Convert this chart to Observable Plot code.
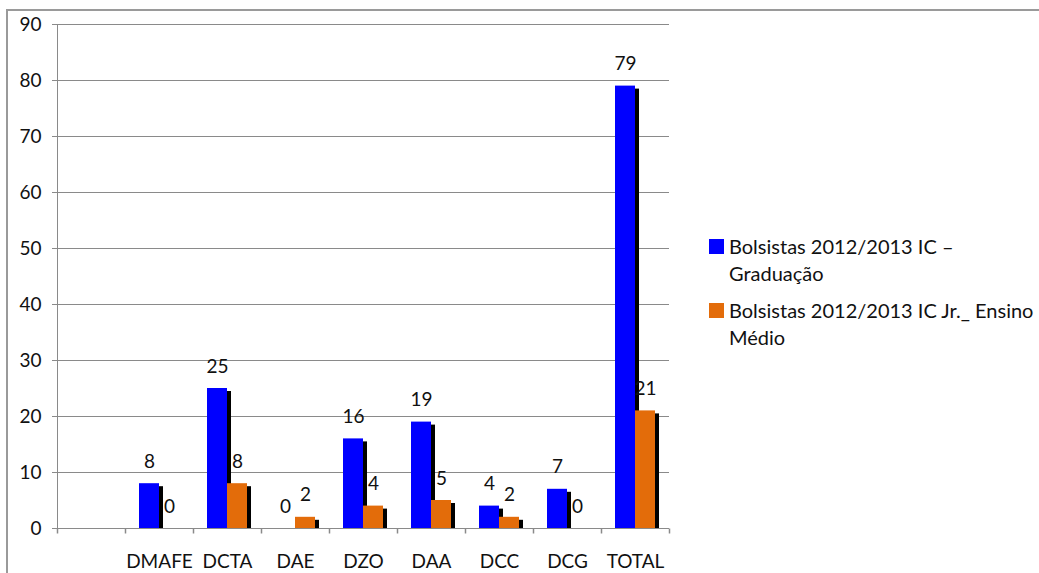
<!DOCTYPE html>
<html>
<head>
<meta charset="utf-8">
<script src="https://cdn.jsdelivr.net/npm/d3@7"></script>
<script src="https://cdn.jsdelivr.net/npm/@observablehq/plot@0.6"></script>
<style>
  body { margin: 0; background: #fff; }
  #wrap { position: relative; width: 1039px; height: 573px; overflow: hidden; font-family: Lato, "Open Sans", sans-serif; }
  #border { position: absolute; left: 6px; top: 9px; width: 1200px; height: 800px; border-left: 2px solid #9a9a9a; border-top: 2px solid #9a9a9a; }
  #chart { position: absolute; left: 0; top: 0; }
  #legend { position: absolute; left: 709px; top: 233px; font-size: 20px; line-height: 27px; color: #111; white-space: nowrap; }
  .item { display: flex; align-items: flex-start; margin-bottom: 10px; }
  .sw { width: 15px; height: 15px; margin-top: 6px; margin-right: 5px; flex: none; }
</style>
</head>
<body>
<div id="wrap">
  <div id="border"></div>
  <div id="chart"></div>
  <div id="legend"></div>
</div>
<script>
// ---- data ----
const categories = [" ", "DMAFE", "DCTA", "DAE", "DZO", "DAA", "DCC", "DCG", "TOTAL"];
const series = ["Bolsistas 2012/2013 IC – Graduação", "Bolsistas 2012/2013 IC Jr._ Ensino Médio"];
const legendLines = [["Bolsistas 2012/2013 IC –", "Graduação"], ["Bolsistas 2012/2013 IC Jr._ Ensino", "Médio"]];
const graduacao   = [8, 25, 0, 16, 19, 4, 7, 79];   // DMAFE .. TOTAL
const ensinoMedio = [0,  8, 2,  4,  5, 2, 0, 21];   // DMAFE .. TOTAL
const colors = ["#0000FF", "#E36C0A"];
const yTicks = [0, 10, 20, 30, 40, 50, 60, 70, 80, 90];

const rows = categories.slice(1).flatMap((c, i) => [
  {cat: c, s: series[0], v: graduacao[i]},
  {cat: c, s: series[1], v: ensinoMedio[i]}
]);

const gray = "#8a8a8a";
const tickSymbol = { draw(ctx) { ctx.moveTo(0, 0); ctx.lineTo(0, 5); } };

const plot = Plot.plot({
  width: 1039,
  height: 573,
  marginLeft: 53,
  marginRight: 367,
  marginTop: 24,
  marginBottom: 45,
  style: { fontFamily: "Lato, 'Open Sans', sans-serif", fontSize: "19px", color: "#111", background: "transparent" },
  fx: { domain: categories, padding: 0, label: null },
  x: { domain: series, paddingInner: 0, paddingOuter: 0.66, axis: null },
  y: { domain: [0, 90], axis: null },
  color: { domain: series, range: colors },
  marks: [
    Plot.gridY(yTicks, { stroke: gray, strokeOpacity: 1 }),
    Plot.axisY(yTicks, { tickSize: 5, tickPadding: 11, stroke: gray, fill: "#111", label: null, fontSize: 19 }),
    Plot.frame({ anchor: "left", stroke: gray, facet: "super" }),
    Plot.dot(categories, { fx: d => d, frameAnchor: "bottom-left", symbol: tickSymbol, stroke: gray, r: 5 }),
    Plot.dot([categories[categories.length - 1]], { fx: d => d, frameAnchor: "bottom-right", symbol: tickSymbol, stroke: gray, r: 5 }),
    Plot.barY(rows.filter(d => d.v > 0), { fx: "cat", x: "s", y: "v", fill: "black", dx: 4, dy: 3, insetBottom: 3 }),
    Plot.barY(rows, { fx: "cat", x: "s", y: "v", fill: "s" }),
    Plot.text(rows, { fx: "cat", x: "s", y: "v", text: d => String(d.v), dy: -22, fontSize: 19, fill: "#111" }),
    Plot.axisFx({ anchor: "bottom", tickSize: 0, tickPadding: 26, label: null, fontSize: 19, fill: "#111" })
  ]
});
document.getElementById("chart").appendChild(plot);

// legend
const leg = d3.select("#legend");
series.forEach((s, i) => {
  const item = leg.append("div").attr("class", "item");
  item.append("div").attr("class", "sw").style("background", colors[i]);
  const t = item.append("div");
  legendLines[i].forEach(l => t.append("div").text(l));
});
</script>
</body>
</html>
